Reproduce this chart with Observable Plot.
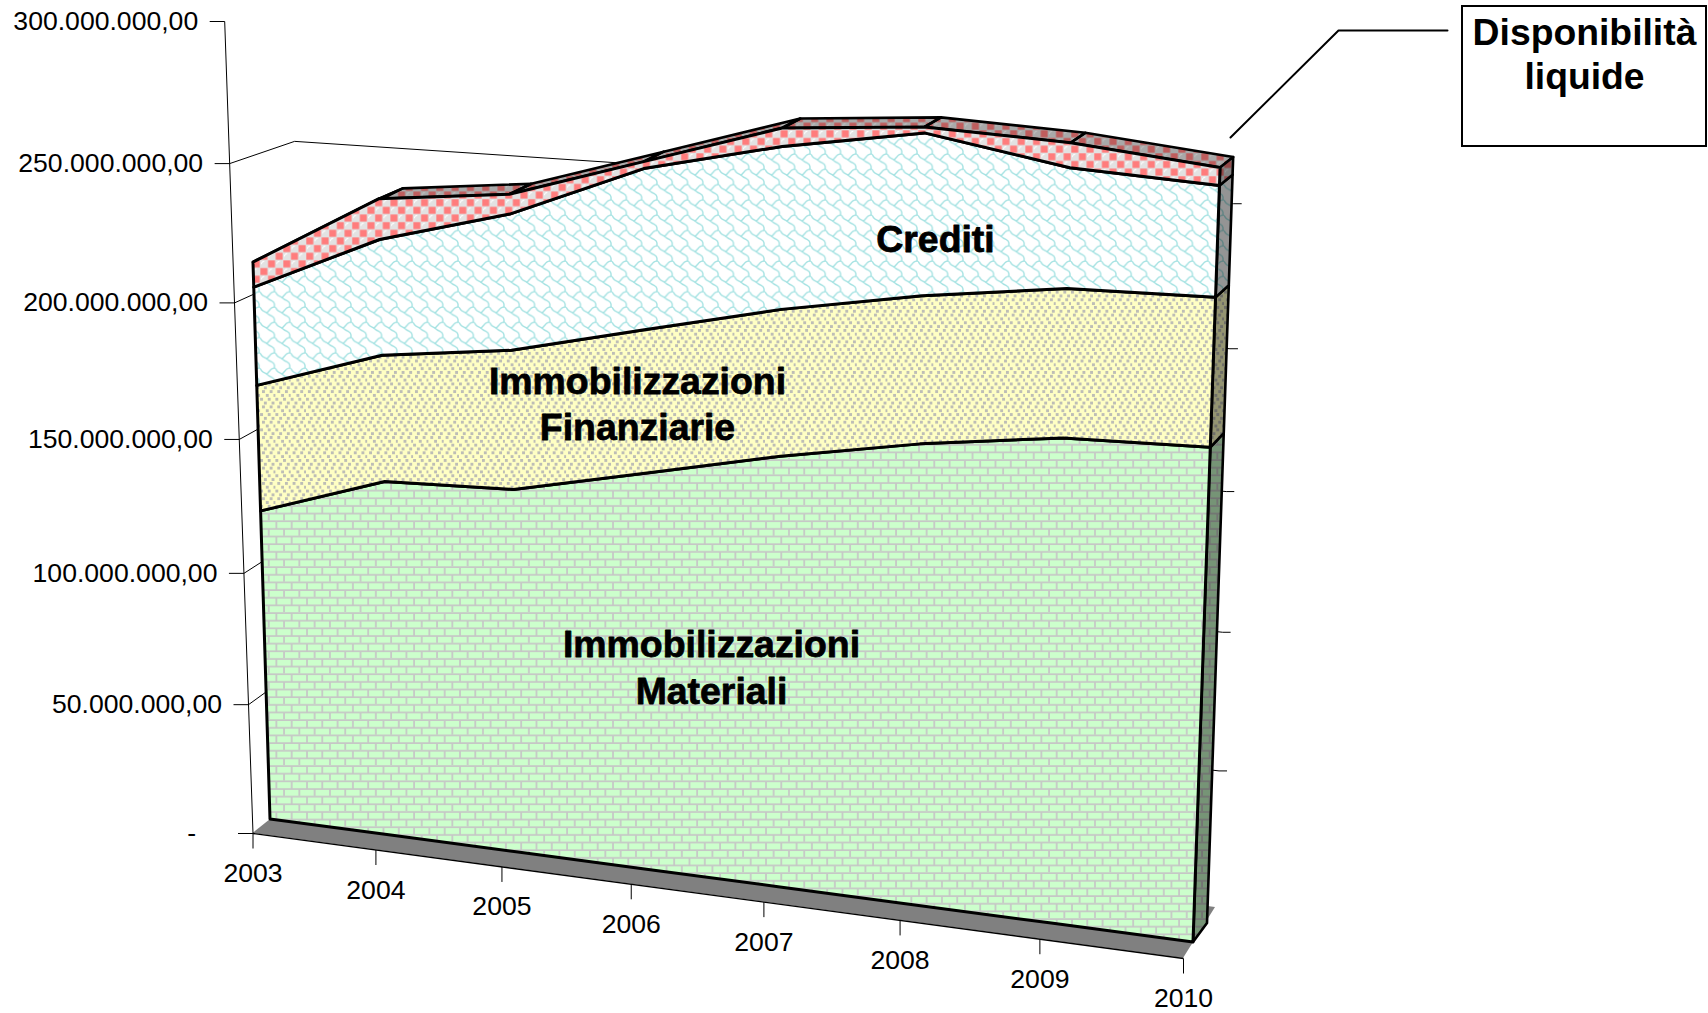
<!DOCTYPE html>
<html>
<head>
<meta charset="utf-8">
<script src="https://cdn.jsdelivr.net/npm/d3@7"></script>
<script src="https://cdn.jsdelivr.net/npm/@observablehq/plot@0.6"></script>
<style>
html,body{margin:0;padding:0;background:#fff;overflow:hidden}
svg{display:block}
</style>
</head>
<body>
<div id="chart"></div>
<script>
const years = [2003,2004,2005,2006,2007,2008,2009,2010];
const materiali   = [119.2e6,135.0e6,136.8e6,147.4e6,158.2e6,167.1e6,173.7e6,175.0e6];
const finanziarie = [47.1e6,46.6e6,50.7e6,51.5e6,51.8e6,51.5e6,51.2e6,50.7e6];
const crediti     = [36.3e6,42.0e6,48.7e6,56.6e6,56.3e6,55.4e6,40.6e6,37.2e6];
const liquide     = [9.2e6,14.6e6,7.0e6,2.4e6,6.3e6,2.0e6,8.3e6,5.9e6];
const valueTicks  = [0,50e6,100e6,150e6,200e6,250e6,300e6];
const seriesNames = ["materiali","finanziarie","crediti","liquide"];
const seriesFills = ["url(#brick)","url(#dots)","url(#shingle)","url(#sphere)"];
const seriesValues = [materiali,finanziarie,crediti,liquide];

// perspective of the 3-D box: four planes, each the picture of the unit square
function plane(p0,p1,p2,p3){
  const [x0,y0]=p0,[x1,y1]=p1,[x2,y2]=p2,[x3,y3]=p3;
  const dx1=x1-x2,dx2=x3-x2,sx=x0-x1+x2-x3,dy1=y1-y2,dy2=y3-y2,sy=y0-y1+y2-y3;
  const den=dx1*dy2-dx2*dy1;
  const g=(sx*dy2-dx2*sy)/den,h=(dx1*sy-sx*dy1)/den;
  const a=x1-x0+g*x1,b=x3-x0+h*x3,c=x0,d=y1-y0+g*y1,e=y3-y0+h*y3,f=y0;
  return (k,v)=>{const u=k/7,t=v/300e6,w=g*u+h*t+1;return [(a*u+b*t+c)/w,(d*u+e*t+f)/w];};
}
const axisPlane = plane([252.5,833],[1183,958],[1214,72],[224.2,21]);
const facePlane = plane([270,819],[1193,942],[1223.4,72],[245.5,17]);
const backPlane = plane([294,799],[1207,923],[1236.4,63],[272.5,10]);
const wallPlane = plane([309,788],[1215,907],[1237,56],[291,6]);

const cum = seriesValues.map((_,s)=>years.map((_,k)=>d3.sum(seriesValues.slice(0,s+1),a=>a[k])));
const low = (s,k)=> s===0 ? 0 : cum[s-1][k];
const K = years.map((_,k)=>k);
const X1=d=>d.a[0],Y1=d=>d.a[1],X2=d=>d.b[0],Y2=d=>d.b[1];

const frontRows = s => K.map(k=>({a:facePlane(k,low(s,k)),b:facePlane(k,cum[s][k])}));
const sideRows  = s => [low(s,7),cum[s][7]].map(v=>({a:facePlane(7,v),b:backPlane(7,v)}));
const topRows = K.slice(0,-1).flatMap(k=>[k,k+1].map(j=>({seg:k,a:facePlane(j,cum[3][j]),b:backPlane(j,cum[3][j])})));
const floorRows = [0,7].map(k=>({a:axisPlane(k,0),b:wallPlane(k,0)}));

const fmt = d3.formatLocale({decimal:",",thousands:".",grouping:[3],currency:["",""]}).format(",.2f");
const yLabel = v => v===0 ? "-" : fmt(v);
const font = "'Liberation Sans', Arial, sans-serif";

const stubTicks = valueTicks.filter(v=>v>0&&v<300e6);
const wallTicks = valueTicks.filter(v=>v>0&&v<300e6);

const marks = [
  Plot.area(floorRows,{x1:X1,y1:Y1,x2:X2,y2:Y2,fill:"#808080"}),
  Plot.link([0],{x1:()=>axisPlane(0,0)[0],y1:()=>axisPlane(0,0)[1],x2:()=>axisPlane(7,0)[0],y2:()=>axisPlane(7,0)[1],stroke:"#000",strokeWidth:1.3}),
  Plot.link(stubTicks,{x1:v=>axisPlane(0,v)[0],y1:v=>axisPlane(0,v)[1],x2:v=>wallPlane(0,v)[0],y2:v=>wallPlane(0,v)[1],stroke:"#000",strokeWidth:1}),
  Plot.link(stubTicks,{x1:v=>wallPlane(0,v)[0],y1:v=>wallPlane(0,v)[1],x2:v=>wallPlane(7,v)[0],y2:v=>wallPlane(7,v)[1],stroke:"#000",strokeWidth:1}),
  Plot.link([0],{x1:()=>axisPlane(0,0)[0],y1:()=>axisPlane(0,0)[1],x2:()=>axisPlane(0,300e6)[0],y2:()=>axisPlane(0,300e6)[1],stroke:"#000",strokeWidth:1}),
  Plot.link(valueTicks,{x1:v=>axisPlane(0,v)[0]-15,y1:v=>axisPlane(0,v)[1],x2:v=>axisPlane(0,v)[0],y2:v=>axisPlane(0,v)[1],stroke:"#000",strokeWidth:1}),
  Plot.text(valueTicks,{x:v=>axisPlane(0,v)[0]-(v===0?57:26.5),y:v=>axisPlane(0,v)[1],text:yLabel,textAnchor:"end",fontFamily:font,fontSize:26.6,fill:"#000"}),
  Plot.link(K,{x1:k=>axisPlane(k,0)[0],y1:k=>axisPlane(k,0)[1],x2:k=>axisPlane(k,0)[0],y2:k=>axisPlane(k,0)[1]+15,stroke:"#000",strokeWidth:1}),
  Plot.text(K,{x:k=>axisPlane(k,0)[0],y:k=>axisPlane(k,0)[1]+40,text:k=>String(years[k]),fontFamily:font,fontSize:26.6,fill:"#000"}),
  Plot.area(topRows,{x1:X1,y1:Y1,x2:X2,y2:Y2,z:"seg",fill:seriesFills[3]}),
  Plot.area(topRows,{x1:X1,y1:Y1,x2:X2,y2:Y2,z:"seg",fill:"#000",fillOpacity:0.25,stroke:"#000",strokeWidth:2.6,strokeLinejoin:"round"}),
  ...seriesNames.flatMap((_,s)=>[
    Plot.area(sideRows(s),{x1:X1,y1:Y1,x2:X2,y2:Y2,fill:seriesFills[s]}),
    Plot.area(sideRows(s),{x1:X1,y1:Y1,x2:X2,y2:Y2,fill:"#000",fillOpacity:0.42,stroke:"#000",strokeWidth:2.6,strokeLinejoin:"round"})
  ]),
  ...seriesNames.map((_,s)=>
    Plot.area(frontRows(s),{x1:X1,y1:Y1,x2:X2,y2:Y2,fill:seriesFills[s],stroke:"#000",strokeWidth:3,strokeLinejoin:"round"})
  ),
  Plot.link(wallTicks,{x1:v=>wallPlane(7,v)[0],y1:v=>wallPlane(7,v)[1],x2:v=>wallPlane(7,v)[0]+8,y2:v=>wallPlane(7,v)[1],stroke:"#000",strokeWidth:1}),
  Plot.text(["Crediti","Immobilizzazioni\nFinanziarie","Immobilizzazioni\nMateriali"],{
    x:d=>d==="Crediti"?935:d.endsWith("Finanziarie")?637:711,
    y:d=>d==="Crediti"?236.5:d.endsWith("Finanziarie")?401.5:665,
    text:d=>d,fontFamily:font,fontSize:37.4,fontWeight:"bold",lineHeight:1.25,fill:"#000",stroke:"#000",strokeWidth:0.8}),
  Plot.line([[1230,137],[1338,30],[1447,30]],{x:d=>d[0],y:d=>d[1],stroke:"#000",strokeWidth:2}),
  Plot.rect([0],{x1:()=>1462,x2:()=>1706,y1:()=>6,y2:()=>146,fill:"#fff",stroke:"#000",strokeWidth:2}),
  Plot.text(["Disponibilità\nliquide"],{x:()=>1584,y:()=>52,text:d=>d,fontFamily:font,fontSize:37.3,fontWeight:"bold",lineHeight:1.18,fill:"#000"})
];

const svg = Plot.plot({
  width:1708,height:1013,margin:0,
  style:{background:"#fff"},
  x:{domain:[0,1708],range:[0,1708],axis:null},
  y:{domain:[0,1013],range:[0,1013],axis:null},
  marks
});

const tile=15.3,u=tile/8;
const defs=`<defs>
<pattern id="brick" patternUnits="userSpaceOnUse" width="${tile}" height="${tile}">
 <rect width="${tile}" height="${tile}" fill="#ccffcc"/>
 <path d="M0,1 H${tile} M0,${1+tile/2} H${tile} M1,1 V${1+tile/2} M${1+tile/2},${1+tile/2} V${1+tile}" stroke="#c6c6c6" stroke-width="1.7" fill="none"/>
</pattern>
<pattern id="dots" patternUnits="userSpaceOnUse" width="${tile}" height="${tile}">
 <rect width="${tile}" height="${tile}" fill="#ffffc4"/>
 <g fill="#bdbdb6">
 ${[[0,0],[3.8,3.8],[7.65,0],[11.45,3.8],[1.9,7.65],[5.7,11.45],[9.55,7.65],[13.35,11.45]].map(([x,y])=>`<rect x="${x}" y="${y}" width="2.9" height="2.9"/>`).join("")}
 </g>
</pattern>
<pattern id="shingle" patternUnits="userSpaceOnUse" width="${tile}" height="${tile}">
 <rect width="${tile}" height="${tile}" fill="#fff"/>
 <g transform="scale(${u})" fill="none" stroke="#a4e2e2" stroke-width="0.72" stroke-linejoin="round" stroke-linecap="round">
  <path d="M7.5,8.2 V7 Q7.4,5.9 6.2,5.3 L4.6,4.5 L3.5,3.6 L5.2,1.7 Q6,0.7 7,0.55 H8.4"/>
  <path d="M3.5,3.6 L1.6,2.6 Q0.6,1.9 0.3,1 L-0.4,0.55"/>
  <path d="M7.5,-0.2 V0.55"/>
 </g>
</pattern>
<pattern id="sphere" patternUnits="userSpaceOnUse" width="${tile}" height="${tile}">
 <rect width="${tile}" height="${tile}" fill="#e2e2e2"/>
 ${[[11.45,3.8],[3.8,11.45]].map(([x,y])=>`<rect x="${x-3.5}" y="${y-3.5}" width="7" height="7" fill="#ff7c7c"/>`).join("")}
 ${[[3.8,3.8],[11.45,11.45]].map(([x,y])=>`<circle cx="${x}" cy="${y}" r="3.9" fill="#e2e2e2"/><path d="M${x-2.4},${y+0.2} A2.5,2.5 0 0 1 ${x+0.4},${y-2.5}" stroke="#fff" stroke-width="1.1" fill="none"/>`).join("")}
</pattern>
</defs>`;
svg.insertAdjacentHTML("afterbegin",defs);
document.getElementById("chart").append(svg);
</script>
</body>
</html>
